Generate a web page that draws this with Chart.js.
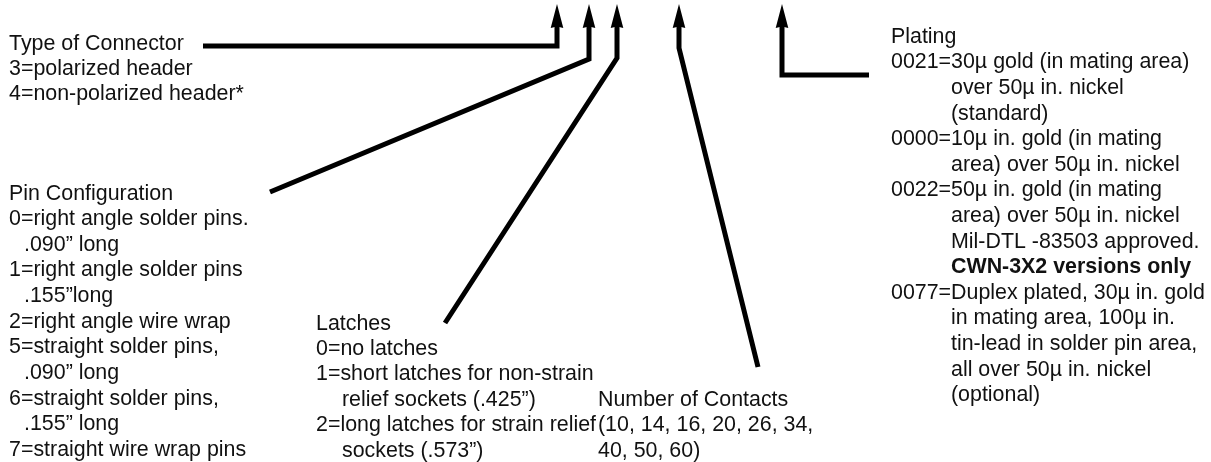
<!DOCTYPE html>
<html>
<head>
<meta charset="utf-8">
<script src="https://cdn.jsdelivr.net/npm/chart.js@4/dist/chart.umd.min.js"></script>
<style>
  html, body { margin: 0; padding: 0; background: #fff; }
  #wrap { width: 1211px; height: 462px; }
</style>
</head>
<body>
<div id="wrap"><canvas id="diagram" width="1211" height="462"></canvas></div>
<script>
// leader lines, arrow end first (then bend, then the end near the label)
const typeLeader     = [{x: 557, y: 20}, {x: 557, y: 46}, {x: 203, y: 46}];
const pinLeader      = [{x: 589, y: 20}, {x: 589, y: 59}, {x: 270, y: 192}];
const latchLeader    = [{x: 617, y: 20}, {x: 617, y: 58}, {x: 445, y: 323}];
const contactsLeader = [{x: 679, y: 20}, {x: 679, y: 48}, {x: 758, y: 367}];
const platingLeader  = [{x: 782, y: 20}, {x: 782, y: 75}, {x: 869, y: 75}];

// label texts ("\t" = hanging indent, "*" = bold)
const typeText = ['Type of Connector', '3=polarized header', '4=non-polarized header*'];
const pinText = [
  'Pin Configuration',
  '0=right angle solder pins.',
  '\t.090\u201d long',
  '1=right angle solder pins',
  '\t.155\u201dlong',
  '2=right angle wire wrap',
  '5=straight solder pins,',
  '\t.090\u201d long',
  '6=straight solder pins,',
  '\t.155\u201d long',
  '7=straight wire wrap pins'
];
const latchText = [
  'Latches',
  '0=no latches',
  '1=short latches for non-strain',
  '\trelief sockets (.425\u201d)',
  '2=long latches for strain relief',
  '\tsockets (.573\u201d)'
];
const contactsText = ['Number of Contacts', '(10, 14, 16, 20, 26, 34,', '40, 50, 60)'];
const platingText = [
  'Plating',
  '0021=30\u00b5 gold (in mating area)',
  '\tover 50\u00b5 in. nickel',
  '\t(standard)',
  '0000=10\u00b5 in. gold (in mating',
  '\tarea) over 50\u00b5 in. nickel',
  '0022=50\u00b5 in. gold (in mating',
  '\tarea) over 50\u00b5 in. nickel',
  '\tMil-DTL -83503 approved.',
  '\t*CWN-3X2 versions only',
  '0077=Duplex plated, 30\u00b5 in. gold',
  '\tin mating area, 100\u00b5 in.',
  '\ttin-lead in solder pin area,',
  '\tall over 50\u00b5 in. nickel',
  '\t(optional)'
];

// where each block sits (x, first baseline, line step, indent) in diagram units
const blocks = [
  {lines: typeText,     x: 9,   y: 50,    step: 24.8,  indent: 0},
  {lines: pinText,      x: 9,   y: 199.5, step: 25.65, indent: 15},
  {lines: latchText,    x: 316, y: 329.5, step: 25.45, indent: 26},
  {lines: contactsText, x: 598, y: 406,   step: 25.4,  indent: 0},
  {lines: platingText,  x: 891, y: 42.7,  step: 25.6,  indent: 60}
];

const FONT = '"Liberation Sans", Arial, Helvetica, sans-serif';

const arrowHeads = {
  id: 'arrowHeads',
  afterDatasetsDraw(chart) {
    const ctx = chart.ctx;
    ctx.save();
    ctx.fillStyle = '#000';
    chart.data.datasets.forEach((ds, i) => {
      const p = chart.getDatasetMeta(i).data[0];
      if (!p) return;
      ctx.beginPath();
      ctx.moveTo(p.x, p.y - 16);
      ctx.lineTo(p.x + 6.3, p.y + 8);
      ctx.lineTo(p.x, p.y + 6.5);
      ctx.lineTo(p.x - 6.3, p.y + 8);
      ctx.closePath();
      ctx.fill();
    });
    ctx.restore();
  }
};

const labels = {
  id: 'labels',
  afterDraw(chart) {
    const ctx = chart.ctx;
    const sx = chart.scales.x, sy = chart.scales.y;
    ctx.save();
    ctx.fillStyle = '#111';
    ctx.textBaseline = 'alphabetic';
    ctx.textAlign = 'left';
    blocks.forEach(b => {
      b.lines.forEach((line, i) => {
        let txt = line, dx = 0, bold = false;
        if (txt.startsWith('\t')) { txt = txt.slice(1); dx = b.indent; }
        if (txt.startsWith('*')) { txt = txt.slice(1); bold = true; }
        ctx.font = (bold ? 'bold ' : '') + '21.4px ' + FONT;
        ctx.fillText(txt, sx.getPixelForValue(b.x + dx), sy.getPixelForValue(b.y + i * b.step));
      });
    });
    ctx.restore();
  }
};

function leader(points) {
  return {
    data: points,
    showLine: true,
    borderColor: '#000',
    borderWidth: 5,
    borderCapStyle: 'butt',
    borderJoinStyle: 'miter',
    pointRadius: 0,
    pointHoverRadius: 0,
    tension: 0,
    fill: false
  };
}

new Chart(document.getElementById('diagram'), {
  type: 'scatter',
  data: {
    datasets: [typeLeader, pinLeader, latchLeader, contactsLeader, platingLeader].map(leader)
  },
  options: {
    responsive: false,
    animation: false,
    devicePixelRatio: 1,
    layout: { padding: 0 },
    plugins: { legend: { display: false }, tooltip: { enabled: false } },
    events: [],
    scales: {
      x: { type: 'linear', min: 0, max: 1211, display: false },
      y: { type: 'linear', min: 0, max: 462, reverse: true, display: false }
    }
  },
  plugins: [arrowHeads, labels]
});
</script>
</body>
</html>
